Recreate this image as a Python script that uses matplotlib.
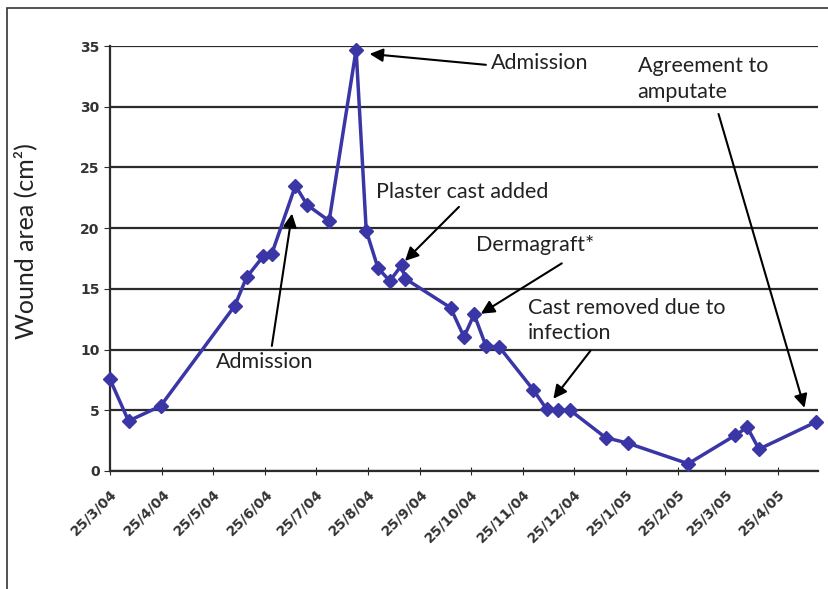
import numpy as np
import pandas as pd
import matplotlib
matplotlib.use("Agg")
from matplotlib import pyplot as plt
from matplotlib.patches import Rectangle

# 測定日と創面積(cm2)
dates = ["2004-03-25", "2004-04-05", "2004-04-24", "2004-06-07", "2004-06-14",
         "2004-06-24", "2004-06-29", "2004-07-13", "2004-07-20", "2004-08-02",
         "2004-08-18", "2004-08-24", "2004-08-31", "2004-09-07", "2004-09-14",
         "2004-09-16", "2004-10-13", "2004-10-21", "2004-10-27", "2004-11-03",
         "2004-11-11", "2004-12-01", "2004-12-09", "2004-12-16", "2004-12-23",
         "2005-01-13", "2005-01-26", "2005-03-03", "2005-03-31", "2005-04-07",
         "2005-04-14", "2005-05-18"]
area = [7.55, 4.12, 5.35, 13.6, 15.95, 17.7, 17.9, 23.5, 21.9, 20.6,
        34.7, 19.8, 16.7, 15.65, 16.95, 15.85, 13.45, 11.05, 12.9, 10.3,
        10.2, 6.7, 5.1, 5.0, 5.0, 2.75, 2.3, 0.6, 2.95, 3.6,
        1.8, 4.05]

tick_dates = pd.date_range("2004-03-01", periods=14, freq="MS") + pd.Timedelta(days=24)
tick_labels = [f"{d.day}/{d.month}/{d.strftime('%y')}" for d in tick_dates]

# 注釈: テキスト, テキスト位置(日付, 値), 矢印の根元, 矢印の先
notes = [
    ("Admission", ("2004-11-06", 33.6), ("2004-11-03", 33.45), ("2004-08-26", 34.35)),
    ("Admission", ("2004-05-27", 8.95), ("2004-06-29", 10.3), ("2004-07-11", 21.2)),
    ("Plaster cast added", ("2004-08-30", 23.0), ("2004-10-18", 21.75), ("2004-09-16", 17.3)),
    ("Dermagraft*", ("2004-10-28", 18.6), ("2004-12-18", 17.1), ("2004-10-31", 12.95)),
    ("Cast removed due to\ninfection", ("2004-11-28", 12.4), ("2005-01-04", 9.9), ("2004-12-13", 5.95)),
    ("Agreement to\namputate", ("2005-02-01", 32.3), ("2005-03-21", 29.4), ("2005-05-11", 5.2)),
]

x = pd.to_datetime(dates)

fig = plt.figure(figsize=(8.29, 5.89), dpi=100)
ax = fig.add_axes([110 / 829, 1 - 471 / 589, 708 / 829, 425 / 589])

# 外枠
fig.add_artist(Rectangle((7 / 829, -0.1), 1.2, 1.1 - 8 / 589, transform=fig.transFigure,
                         fill=False, edgecolor="#333333", linewidth=1.2))

ax.plot(x, area, color="#3b36a6", linewidth=2.5, marker="D", markersize=7,
        markerfacecolor="#3b36a6", markeredgecolor="#3b36a6", zorder=3, clip_on=False)

ax.set_ylim(0, 35)
ax.set_yticks(np.arange(0, 36, 5))
ax.set_xlim(pd.Timestamp("2004-03-25"), pd.Timestamp("2005-05-19"))
ax.set_xticks(tick_dates)
ax.set_xticklabels(tick_labels, rotation=45, ha="right", rotation_mode="anchor")
ax.grid(True, axis="y", color="#2b2b2b", linewidth=1.6)
for side in ["top", "right"]:
    ax.spines[side].set_visible(False)
ax.spines["left"].set_color("#2b2b2b")
ax.spines["bottom"].set_color("#2b2b2b")
ax.spines["left"].set_linewidth(1.6)
ax.spines["bottom"].set_linewidth(1.6)
ax.tick_params(axis="both", direction="out", length=4, color="#2b2b2b")
ax.tick_params(axis="x", direction="inout", length=6, pad=8)
for lab in ax.get_xticklabels():
    lab.set_fontfamily("DejaVu Sans")
    lab.set_fontweight("bold")
    lab.set_fontsize(10)
    lab.set_color("#333333")
for lab in ax.get_yticklabels():
    lab.set_fontfamily("DejaVu Sans")
    lab.set_fontweight("bold")
    lab.set_fontsize(10)
    lab.set_color("#333333")

ax.set_ylabel("Wound area (cm²)", fontsize=18, family="Lato", color="#222222")
ax.yaxis.set_label_coords(-0.103, 0.54)

for text, pos, tail, tip in notes:
    ax.text(pd.Timestamp(pos[0]), pos[1], text, fontsize=15.5, family="Lato",
            color="#222222", ha="left", va="center", linespacing=1.35)
    ax.annotate("", xy=(pd.Timestamp(tip[0]), tip[1]), xytext=(pd.Timestamp(tail[0]), tail[1]),
                arrowprops=dict(arrowstyle="-|>", color="black", lw=1.5,
                                mutation_scale=20, shrinkA=0, shrinkB=0))

fig.savefig("out.png", dpi=100)
